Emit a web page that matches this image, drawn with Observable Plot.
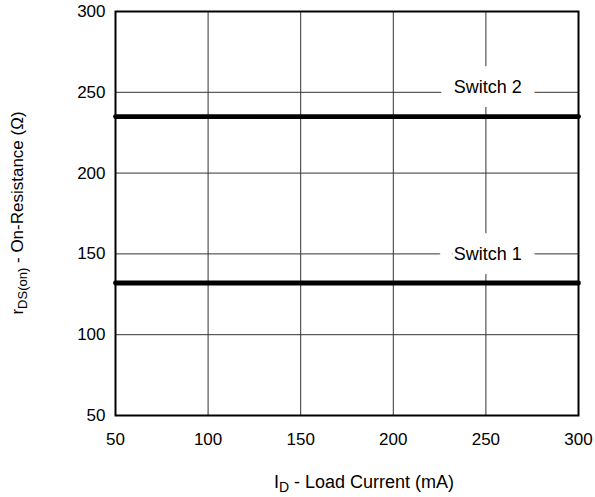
<!DOCTYPE html>
<html>
<head>
<meta charset="utf-8">
<script src="https://cdn.jsdelivr.net/npm/d3@7"></script>
<script src="https://cdn.jsdelivr.net/npm/@observablehq/plot@0.6"></script>
<style>
  html, body { margin: 0; padding: 0; background: #fff; }
  #chart svg { display: block; }
</style>
</head>
<body>
<div id="chart"></div>
<script>
// Data
const xTicks = [50, 100, 150, 200, 250, 300];
const yTicks = [50, 100, 150, 200, 250, 300];
const series = ["Switch 1", "Switch 2"];
const seriesValues = [132, 235];          // on-resistance (Ω), flat across load current
const currentRange = [50, 300];           // mA
const labelX = [251, 251];
const labelY = [150, 253];

const lines = [];
series.forEach((s, i) => {
  currentRange.forEach(c => lines.push({series: s, current: c, r: seriesValues[i]}));
});
const labels = series.map((s, i) => ({text: s, x: labelX[i], y: labelY[i]}));

const W = 595, H = 497;
const mLeft = 115, mRight = 17, mTop = 11, mBottom = 82;
const font = "Helvetica, Arial, 'Liberation Sans', sans-serif";

const plot = Plot.plot({
  width: W,
  height: H,
  marginLeft: mLeft,
  marginRight: mRight,
  marginTop: mTop,
  marginBottom: mBottom,
  style: {fontFamily: font, fontSize: "17px", color: "#000", background: "#fff"},
  x: {domain: [50, 300], label: null},
  y: {domain: [50, 300], label: null},
  marks: [
    Plot.ruleX(xTicks, {stroke: "#333", strokeWidth: 1}),
    Plot.ruleY(yTicks, {stroke: "#333", strokeWidth: 1}),
    Plot.text(labels, {x: "x", y: "y", text: "text", fill: "#000", stroke: "#fff", strokeWidth: 27, strokeLinejoin: "miter", fontSize: 18}),
    Plot.line(lines, {x: "current", y: "r", z: "series", stroke: "#000", strokeWidth: 4.8}),
    Plot.frame({stroke: "#000", strokeWidth: 2}),
    Plot.axisX({ticks: xTicks, tickSize: 0, tickPadding: 17, fontSize: 17, label: null}),
    Plot.axisY({ticks: yTicks, tickSize: 0, tickPadding: 10, fontSize: 17, label: null})
  ]
});

document.getElementById("chart").appendChild(plot);

// Axis titles with subscripts
const svg = d3.select(plot);
const xt = svg.append("text")
  .attr("x", 364)
  .attr("y", 488)
  .attr("text-anchor", "middle")
  .attr("font-family", font)
  .attr("font-size", 18)
  .attr("fill", "#000");
xt.append("tspan").text("I");
xt.append("tspan").attr("font-size", 14).attr("dy", 4).text("D");
xt.append("tspan").attr("dy", -4).text(" - Load Current (mA)");

const yt = svg.append("text")
  .attr("transform", `translate(23, ${mTop + (H - mTop - mBottom) / 2}) rotate(-90)`)
  .attr("text-anchor", "middle")
  .attr("font-family", font)
  .attr("font-size", 17)
  .attr("fill", "#000");
yt.append("tspan").text("r");
yt.append("tspan").attr("font-size", 13).attr("dy", 4).text("DS(on)");
yt.append("tspan").attr("dy", -4).text(" - On-Resistance (Ω)");
</script>
</body>
</html>
